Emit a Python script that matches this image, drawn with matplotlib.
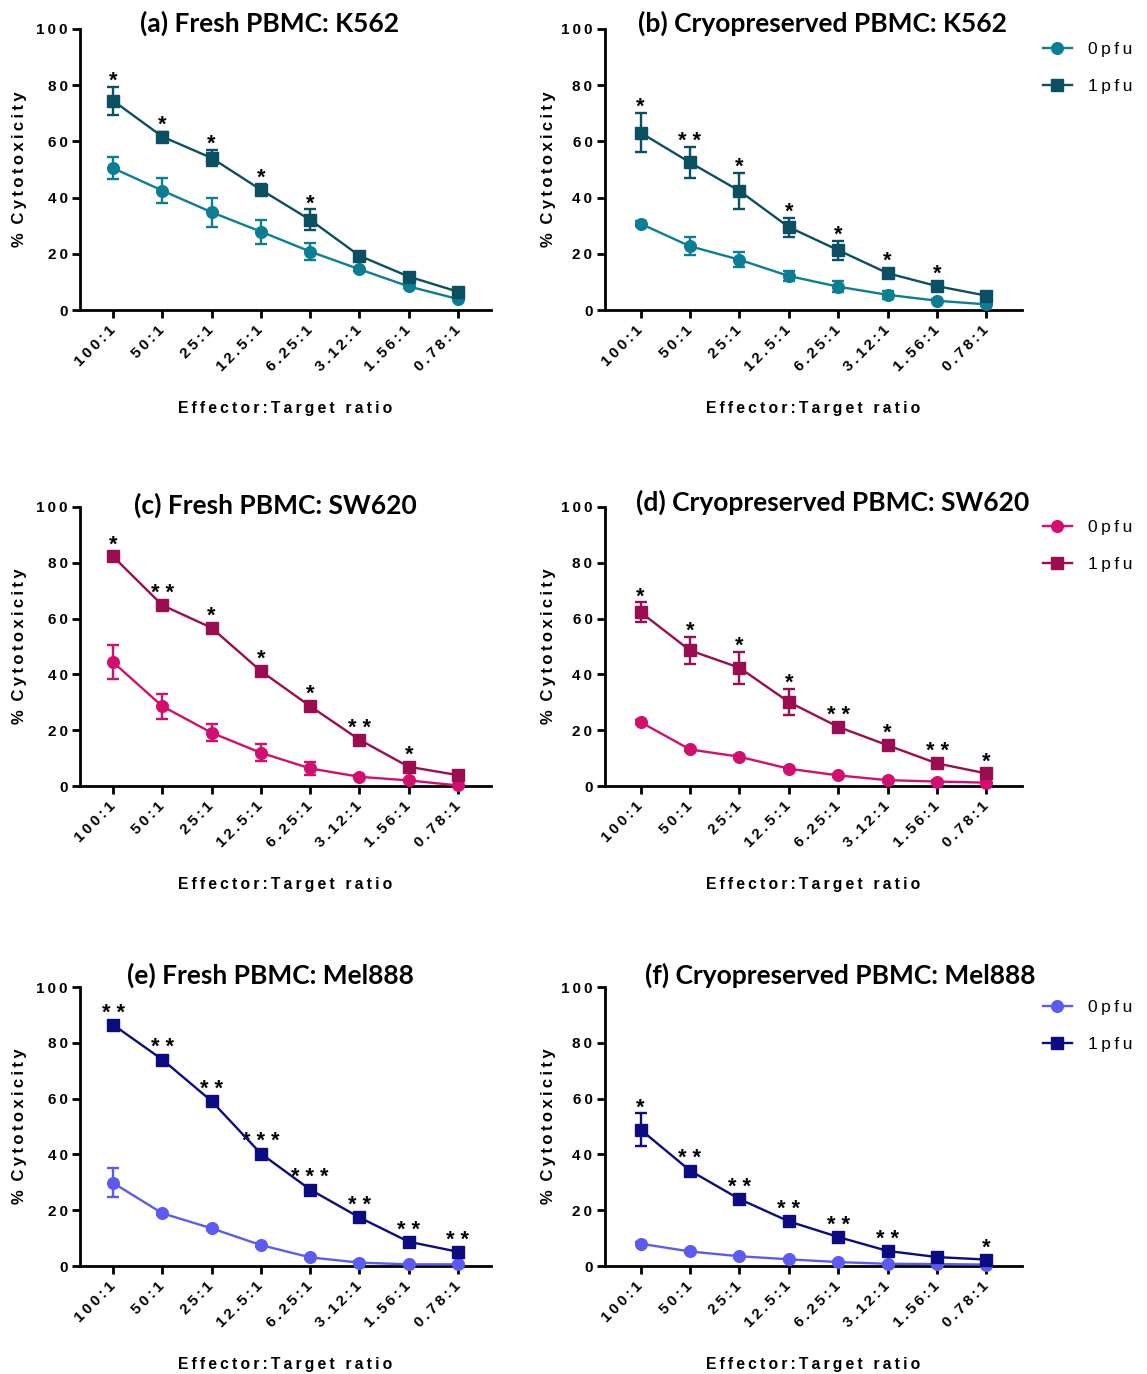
import matplotlib
matplotlib.use("Agg")
import matplotlib.pyplot as plt

W, H = 1147, 1374

ratios = ["100:1", "50:1", "25:1", "12.5:1", "6.25:1", "3.12:1", "1.56:1", "0.78:1"]
series_names = ["0pfu", "1pfu"]
yticks = [0, 20, 40, 60, 80, 100]

# (a) Fresh PBMC: K562
a_0pfu = [50.5, 42.5, 34.8, 27.9, 20.8, 14.5, 8.4, 3.9]
a_0pfu_err = [4.0, 4.3, 5.2, 4.3, 2.9, 0.6, 0.6, 0.5]
a_1pfu = [74.5, 61.7, 54.1, 42.8, 32.1, 19.3, 11.9, 6.5]
a_1pfu_err = [5.0, 1.5, 2.8, 2.0, 3.7, 0.6, 0.6, 0.5]
a_stars = ["*", "*", "*", "*", "*", "", "", ""]

# (b) Cryopreserved PBMC: K562
b_0pfu = [30.7, 22.7, 17.9, 12.1, 8.3, 5.4, 3.3, 2.0]
b_0pfu_err = [0.8, 3.2, 2.7, 1.8, 2.0, 1.5, 0.6, 0.5]
b_1pfu = [63.1, 52.5, 42.4, 29.5, 21.3, 13.1, 8.5, 5.1]
b_1pfu_err = [7.0, 5.5, 6.4, 3.4, 3.4, 1.5, 1.0, 0.5]
b_stars = ["*", "**", "*", "*", "*", "*", "*", ""]

# (c) Fresh PBMC: SW620
c_0pfu = [44.4, 28.6, 19.1, 11.9, 6.3, 3.3, 2.0, 0.2]
c_0pfu_err = [6.0, 4.5, 3.1, 3.1, 2.3, 0.6, 0.5, 0.3]
c_1pfu = [82.3, 64.8, 56.7, 41.2, 28.6, 16.6, 6.9, 3.9]
c_1pfu_err = [0.6, 0.6, 0.6, 0.6, 0.6, 0.6, 0.6, 0.5]
c_stars = ["*", "**", "*", "*", "*", "**", "*", ""]

# (d) Cryopreserved PBMC: SW620
d_0pfu = [22.9, 13.1, 10.5, 6.2, 3.8, 2.1, 1.6, 1.2]
d_0pfu_err = [0.6, 0.6, 0.6, 0.6, 0.5, 0.5, 0.5, 0.5]
d_1pfu = [62.3, 48.6, 42.4, 30.1, 21.2, 14.6, 8.1, 4.5]
d_1pfu_err = [3.5, 4.8, 5.8, 4.6, 1.5, 1.0, 1.0, 1.0]
d_stars = ["*", "*", "*", "*", "**", "*", "**", "*"]

# (e) Fresh PBMC: Mel888
e_0pfu = [29.8, 18.9, 13.5, 7.5, 3.1, 1.2, 0.6, 0.6]
e_0pfu_err = [5.2, 0.6, 0.6, 0.6, 0.5, 0.5, 0.3, 0.3]
e_1pfu = [86.5, 74.0, 59.1, 40.3, 27.4, 17.4, 8.7, 5.1]
e_1pfu_err = [0.6, 0.6, 0.6, 0.6, 0.6, 0.6, 0.6, 0.6]
e_stars = ["**", "**", "**", "***", "***", "**", "**", "**"]

# (f) Cryopreserved PBMC: Mel888
f_0pfu = [8.0, 5.2, 3.5, 2.4, 1.4, 0.8, 0.7, 0.5]
f_0pfu_err = [0.6, 0.6, 0.5, 0.5, 0.5, 0.3, 0.3, 0.3]
f_1pfu = [48.9, 34.2, 24.0, 16.0, 10.4, 5.4, 3.2, 2.3]
f_1pfu_err = [5.8, 0.8, 0.8, 0.8, 0.8, 0.8, 0.6, 0.6]
f_stars = ["*", "**", "**", "**", "**", "**", "", "*"]

titles = ["(a) Fresh PBMC: K562", "(b) Cryopreserved PBMC: K562",
          "(c) Fresh PBMC: SW620", "(d) Cryopreserved PBMC: SW620",
          "(e) Fresh PBMC: Mel888", "(f) Cryopreserved PBMC: Mel888"]

K562_COLORS = ("#0B7E94", "#0A4F62")
SW620_COLORS = ("#D20F6E", "#9C0C50")
MEL888_COLORS = ("#5B5BF2", "#0B0B82")

panels = [
    (a_0pfu, a_0pfu_err, a_1pfu, a_1pfu_err, a_stars, K562_COLORS),
    (b_0pfu, b_0pfu_err, b_1pfu, b_1pfu_err, b_stars, K562_COLORS),
    (c_0pfu, c_0pfu_err, c_1pfu, c_1pfu_err, c_stars, SW620_COLORS),
    (d_0pfu, d_0pfu_err, d_1pfu, d_1pfu_err, d_stars, SW620_COLORS),
    (e_0pfu, e_0pfu_err, e_1pfu, e_1pfu_err, e_stars, MEL888_COLORS),
    (f_0pfu, f_0pfu_err, f_1pfu, f_1pfu_err, f_stars, MEL888_COLORS),
]

# layout in pixels: column x extents, row (y of 100, y of 0), title positions
COLS = [(80, 491), (605, 1022)]
ROWS = [(29, 310), (507, 786), (987, 1266)]
YLABEL_RIGHT = [27, 556]
TITLE_POS = [(270, 32), (822, 32), (275, 514), (833, 511), (270, 984), (840, 984)]

SANS = ["Liberation Sans", "DejaVu Sans"]
TITLE_FONT = ["Lato", "DejaVu Sans"]


def spaced(s, gap="\u2009"):
    return gap.join(s)


def star_text(s):
    return " ".join(s)


fig = plt.figure(figsize=(W / 100, H / 100), dpi=100)

for k, (v0, e0, v1, e1, stars, (col0, col1)) in enumerate(panels):
    r, c = divmod(k, 2)
    x0, x1 = COLS[c]
    ytop, ybot = ROWS[r]
    ax = fig.add_axes([x0 / W, 1 - ybot / H, (x1 - x0) / W, (ybot - ytop) / H])
    xs = list(range(len(ratios)))

    for vals, errs, col in ((v0, e0, col0), (v1, e1, col1)):
        ax.errorbar(xs, vals, yerr=errs, fmt="none", ecolor=col, elinewidth=1.7,
                    capsize=4.3, capthick=1.7, clip_on=False, zorder=3)
    l0, = ax.plot(xs, v0, "-o", color=col0, lw=1.7, ms=8.4, clip_on=False, zorder=4)
    l1, = ax.plot(xs, v1, "-s", color=col1, lw=1.7, ms=8.6, clip_on=False, zorder=5)

    for i, s in enumerate(stars):
        if not s:
            continue
        top = max(v1[i] + e1[i], v1[i] + 2.2)
        ax.annotate(star_text(s), xy=(i, top), xytext=(0, 0), textcoords="offset points",
                    ha="center", va="baseline", fontsize=15.5, fontweight="bold",
                    family=SANS, color="black", annotation_clip=False)

    margin = 0.67 if c == 0 else 0.72
    ax.set_xlim(-margin, len(ratios) - 1 + margin)
    ax.set_ylim(0, 100)
    for side in ("top", "right"):
        ax.spines[side].set_visible(False)
    for side in ("left", "bottom"):
        ax.spines[side].set_linewidth(2.0)
        ax.spines[side].set_color("black")
    ax.set_facecolor("none")

    ax.set_yticks(yticks)
    ax.set_yticklabels([spaced(str(t)) for t in yticks], fontsize=11,
                       fontweight="bold", family=SANS)
    ax.set_xticks(xs)
    ax.set_xticklabels([spaced(t) for t in ratios], rotation=45, ha="right",
                       va="center", rotation_mode="anchor", fontsize=11,
                       fontweight="bold", family=SANS)
    ax.tick_params(axis="both", length=6, width=2.0, color="black", direction="out")
    ax.tick_params(axis="y", pad=3)
    ax.tick_params(axis="x", pad=7)

    ax.set_ylabel("%\u2005 " + spaced("Cytotoxicity"), fontsize=12,
                  fontweight="bold", family=SANS)
    ax.yaxis.set_label_coords((YLABEL_RIGHT[c] - x0) / (x1 - x0), 0.5)

    cx = (x0 + x1) / 2
    fig.text(cx / W, 1 - (ybot + 103) / H, spaced("Effector:Target ratio"),
             ha="center", va="baseline", fontsize=11.3, fontweight="bold", family=SANS)

    tx, tb = TITLE_POS[k]
    fig.text(tx / W, 1 - tb / H, titles[k], ha="center", va="baseline", fontsize=19,
             fontweight="bold", family=TITLE_FONT)

    if c == 1:
        ax.legend([l0, l1], [spaced(n) for n in series_names], loc="upper left",
                  bbox_to_anchor=(1043 / W, 1 - (ytop + 13) / H),
                  bbox_transform=fig.transFigure, frameon=False,
                  prop={"family": SANS, "size": 12.5}, handlelength=1.65,
                  handletextpad=0.95, labelspacing=1.25, borderpad=0, borderaxespad=0,
                  numpoints=1)

fig.savefig("out.png", dpi=100)
